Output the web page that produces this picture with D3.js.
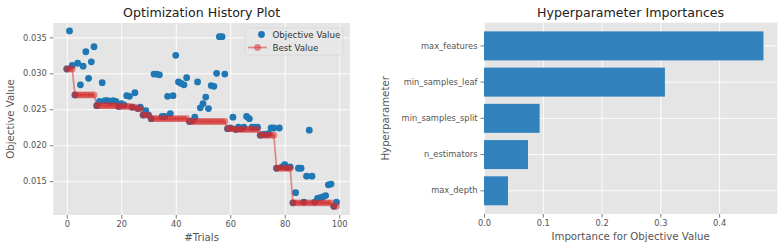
<!DOCTYPE html>
<html lang="en">
<head>
<meta charset="utf-8">
<title>Optimization History / Hyperparameter Importances</title>
<script src="https://d3js.org/d3.v7.min.js"></script>
<style>
  body { margin: 0; background: #fff; }
  svg text { font-family: "DejaVu Sans", sans-serif; }
</style>
</head>
<body>
<script>
// objective value of each trial (trial number = index)
const objectiveValues = [
  0.0306, 0.0359, 0.0311, 0.0270, 0.0314, 0.0284, 0.0310, 0.0330, 0.0293, 0.0316,
  0.0337, 0.0255, 0.0261, 0.0287, 0.0262, 0.0262, 0.0261, 0.0262, 0.0261, 0.0254,
  0.0258, 0.0256, 0.0269, 0.0268, 0.0253, 0.0273, 0.0251, 0.0253, 0.0242, 0.0248,
  0.0242, 0.0237, 0.0299, 0.0299, 0.0298, 0.0240, 0.0240, 0.0268, 0.0244, 0.0269,
  0.0325, 0.0288, 0.0286, 0.0284, 0.0294, 0.0233, 0.0234, 0.0239, 0.0288, 0.0252,
  0.0258, 0.0267, 0.0251, 0.0283, 0.0282, 0.0300, 0.0351, 0.0351, 0.0299, 0.0223,
  0.0224, 0.0239, 0.0222, 0.0225, 0.0223, 0.0225, 0.0240, 0.0237, 0.0225, 0.0225,
  0.0225, 0.0214, 0.0215, 0.0215, 0.0216, 0.0224, 0.0224, 0.0168, 0.0224, 0.0170,
  0.0173, 0.0169, 0.0170, 0.0120, 0.0134, 0.0168, 0.0168, 0.0121, 0.0157, 0.0221,
  0.0157, 0.0121, 0.0126, 0.0127, 0.0128, 0.0130, 0.0145, 0.0146, 0.0115, 0.0121
];

// best value so far
const bestValues = [
  0.0306, 0.0306, 0.0306, 0.0270, 0.0270, 0.0270, 0.0270, 0.0270, 0.0270, 0.0270,
  0.0270, 0.0255, 0.0255, 0.0255, 0.0255, 0.0255, 0.0255, 0.0255, 0.0255, 0.0254,
  0.0254, 0.0254, 0.0254, 0.0254, 0.0253, 0.0253, 0.0251, 0.0251, 0.0242, 0.0242,
  0.0242, 0.0237, 0.0237, 0.0237, 0.0237, 0.0237, 0.0237, 0.0237, 0.0237, 0.0237,
  0.0237, 0.0237, 0.0237, 0.0237, 0.0237, 0.0233, 0.0233, 0.0233, 0.0233, 0.0233,
  0.0233, 0.0233, 0.0233, 0.0233, 0.0233, 0.0233, 0.0233, 0.0233, 0.0233, 0.0223,
  0.0223, 0.0223, 0.0222, 0.0222, 0.0222, 0.0222, 0.0222, 0.0222, 0.0222, 0.0222,
  0.0222, 0.0214, 0.0214, 0.0214, 0.0214, 0.0214, 0.0214, 0.0168, 0.0168, 0.0168,
  0.0168, 0.0168, 0.0168, 0.0120, 0.0120, 0.0120, 0.0120, 0.0120, 0.0120, 0.0120,
  0.0120, 0.0120, 0.0120, 0.0120, 0.0120, 0.0120, 0.0120, 0.0120, 0.0115, 0.0115
];

const trialTicks = [0, 20, 40, 60, 80, 100];
const objectiveTicks = [0.015, 0.020, 0.025, 0.030, 0.035];

// importances, top to bottom as drawn
const paramNames = ["max_features", "min_samples_leaf", "min_samples_split", "n_estimators", "max_depth"];
const importances = [0.4755, 0.3078, 0.0946, 0.0748, 0.0408];
const importanceTicks = [0.0, 0.1, 0.2, 0.3, 0.4];

const width = 784, height = 251;
const bg = "#e5e5e5", tickColor = "#555555";
const blue = "#1f77b4", red = "#d62728", barBlue = "#3182bd";

const svg = d3.select("body").append("svg")
  .attr("width", width).attr("height", height);

function styleAxis(g, size) {
  g.select(".domain").remove();
  g.selectAll(".tick line").attr("stroke", tickColor).attr("stroke-width", 0.8);
  g.selectAll(".tick text").attr("fill", tickColor).style("font-size", size + "px");
}
function styleGrid(g) {
  g.select(".domain").remove();
  g.selectAll(".tick line").attr("stroke", "#ffffff").attr("stroke-width", 0.9);
}

// ---------- left: optimization history ----------
const h = { x0: 53.3, x1: 350, y0: 23, y1: 215 };
const xHist = d3.scaleLinear().domain([-4.95, 103.95]).range([h.x0, h.x1]);
const yHist = d3.scaleLinear().domain([0.0103, 0.0370]).range([h.y1, h.y0]);

svg.append("rect").attr("x", h.x0).attr("y", h.y0)
  .attr("width", h.x1 - h.x0).attr("height", h.y1 - h.y0).attr("fill", bg);

svg.append("g").attr("transform", `translate(0,${h.y1})`)
  .call(d3.axisBottom(xHist).tickValues(trialTicks).tickSize(-(h.y1 - h.y0)).tickFormat(""))
  .call(styleGrid);
svg.append("g").attr("transform", `translate(${h.x0},0)`)
  .call(d3.axisLeft(yHist).tickValues(objectiveTicks).tickSize(-(h.x1 - h.x0)).tickFormat(""))
  .call(styleGrid);

svg.append("g").attr("transform", `translate(0,${h.y1})`)
  .call(d3.axisBottom(xHist).tickValues(trialTicks).tickSize(3.5).tickPadding(3).tickFormat(d3.format("d")))
  .call(g => styleAxis(g, 8.3));
svg.append("g").attr("transform", `translate(${h.x0},0)`)
  .call(d3.axisLeft(yHist).tickValues(objectiveTicks).tickSize(3.5).tickPadding(3).tickFormat(d3.format(".3f")))
  .call(g => styleAxis(g, 8.3));

// objective values
svg.append("g").selectAll("circle")
  .data(objectiveValues)
  .join("circle")
  .attr("cx", (d, i) => xHist(i))
  .attr("cy", d => yHist(d))
  .attr("r", 3.4)
  .attr("fill", blue);

// best value line + markers
const bestLine = d3.line().x((d, i) => xHist(i)).y(d => yHist(d));
svg.append("path").datum(bestValues)
  .attr("d", bestLine)
  .attr("fill", "none").attr("stroke", red).attr("stroke-width", 1.7)
  .attr("stroke-opacity", 0.5);
svg.append("g").selectAll("circle")
  .data(bestValues)
  .join("circle")
  .attr("cx", (d, i) => xHist(i))
  .attr("cy", d => yHist(d))
  .attr("r", 3.4)
  .attr("fill", red).attr("fill-opacity", 0.5);

// legend
const lg = svg.append("g");
lg.append("rect").attr("x", 245).attr("y", 28).attr("width", 98).attr("height", 27)
  .attr("rx", 2).attr("fill", "#e8e8e8").attr("fill-opacity", 0.85)
  .attr("stroke", "#d8d8d8").attr("stroke-width", 0.8);
lg.append("circle").attr("cx", 261.5).attr("cy", 34.5).attr("r", 3.4).attr("fill", blue);
lg.append("line").attr("x1", 248).attr("x2", 267).attr("y1", 47.5).attr("y2", 47.5)
  .attr("stroke", red).attr("stroke-width", 1.7).attr("stroke-opacity", 0.5);
lg.append("circle").attr("cx", 257.5).attr("cy", 47.5).attr("r", 3.4)
  .attr("fill", red).attr("fill-opacity", 0.5);
lg.append("text").attr("x", 272.5).attr("y", 37.7).text("Objective Value")
  .style("font-size", "8.7px").attr("fill", "#333");
lg.append("text").attr("x", 272.5).attr("y", 50.8).text("Best Value")
  .style("font-size", "8.7px").attr("fill", "#333");

svg.append("text").attr("x", (h.x0 + h.x1) / 2).attr("y", 17.3)
  .attr("text-anchor", "middle").style("font-size", "12.6px").attr("fill", "#222")
  .text("Optimization History Plot");
svg.append("text").attr("x", (h.x0 + h.x1) / 2).attr("y", 241)
  .attr("text-anchor", "middle").style("font-size", "10.2px").attr("fill", tickColor)
  .text("#Trials");
svg.append("text").attr("transform", `translate(14,${(h.y0 + h.y1) / 2}) rotate(-90)`)
  .attr("text-anchor", "middle").style("font-size", "10.2px").attr("fill", tickColor)
  .text("Objective Value");

// ---------- right: hyperparameter importances ----------
const p = { x0: 484, x1: 777.3, y0: 22.7, y1: 214 };
const xImp = d3.scaleLinear().domain([0, 0.499]).range([p.x0, p.x1]);
const yImp = d3.scaleBand().domain(paramNames.slice().reverse())
  .range([p.y1, p.y0]).paddingInner(0.2).paddingOuter(0.24);

svg.append("rect").attr("x", p.x0).attr("y", p.y0)
  .attr("width", p.x1 - p.x0).attr("height", p.y1 - p.y0).attr("fill", bg);

svg.append("g").attr("transform", `translate(0,${p.y1})`)
  .call(d3.axisBottom(xImp).tickValues(importanceTicks).tickSize(-(p.y1 - p.y0)).tickFormat(""))
  .call(styleGrid);
svg.append("g").attr("transform", `translate(${p.x0},0)`)
  .call(d3.axisLeft(yImp).tickSize(-(p.x1 - p.x0)).tickFormat(""))
  .call(styleGrid);

svg.append("g").selectAll("rect")
  .data(paramNames)
  .join("rect")
  .attr("x", xImp(0))
  .attr("y", d => yImp(d))
  .attr("width", (d, i) => xImp(importances[i]) - xImp(0))
  .attr("height", yImp.bandwidth())
  .attr("fill", barBlue);

svg.append("g").attr("transform", `translate(0,${p.y1})`)
  .call(d3.axisBottom(xImp).tickValues(importanceTicks).tickSize(3.5).tickPadding(3).tickFormat(d3.format(".1f")))
  .call(g => styleAxis(g, 8.3));
svg.append("g").attr("transform", `translate(${p.x0},0)`)
  .call(d3.axisLeft(yImp).tickSize(3.5).tickPadding(3))
  .call(g => styleAxis(g, 8.3));

svg.append("text").attr("x", (p.x0 + p.x1) / 2).attr("y", 17.3)
  .attr("text-anchor", "middle").style("font-size", "12.6px").attr("fill", "#222")
  .text("Hyperparameter Importances");
svg.append("text").attr("x", (p.x0 + p.x1) / 2).attr("y", 240)
  .attr("text-anchor", "middle").style("font-size", "10.2px").attr("fill", tickColor)
  .text("Importance for Objective Value");
svg.append("text").attr("transform", `translate(389,${(p.y0 + p.y1) / 2}) rotate(-90)`)
  .attr("text-anchor", "middle").style("font-size", "10.2px").attr("fill", tickColor)
  .text("Hyperparameter");
</script>
</body>
</html>
